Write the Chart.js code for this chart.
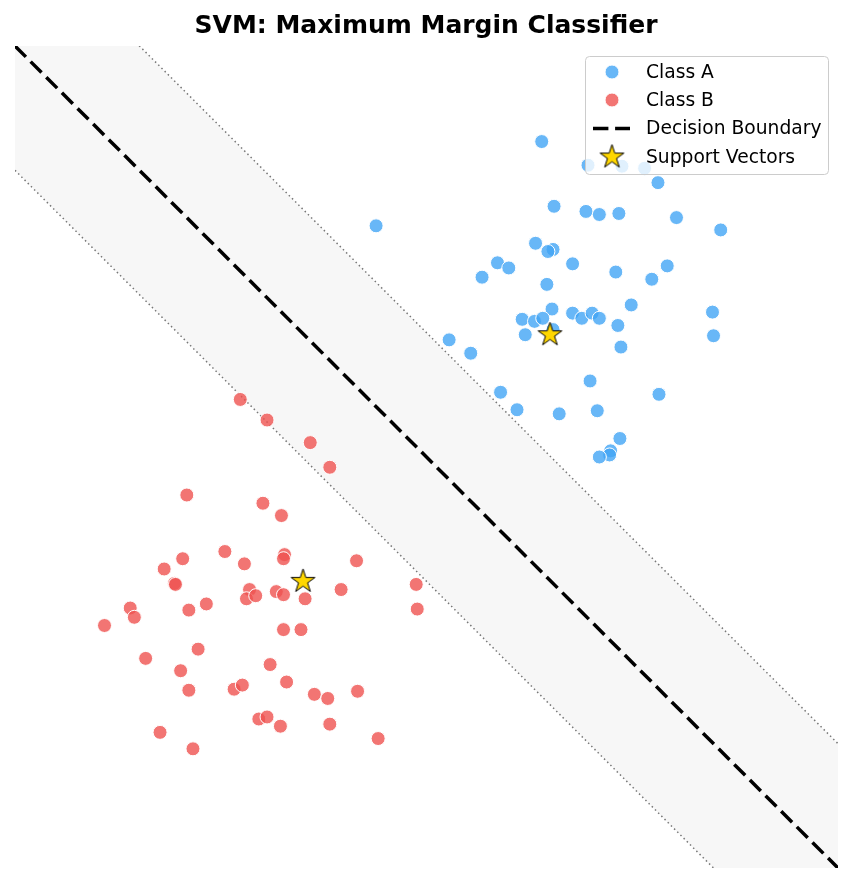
<!DOCTYPE html>
<html>
<head>
<meta charset="utf-8">
<title>SVM: Maximum Margin Classifier</title>
<script src="https://cdn.jsdelivr.net/npm/chart.js@4.4.1/dist/chart.umd.min.js"></script>
<style>
  html, body { margin: 0; padding: 0; background: #fff; }
  #wrap { width: 853px; height: 885px; position: relative; }
</style>
</head>
<body>
<div id="wrap"><canvas id="svmChart"></canvas></div>
<script>
'use strict';
// ******* Data *******
let classAX = [1.12, 1.57, 1.90, 2.12, 2.25, -0.49, 1.24, 1.55, 1.68, 1.87,
  2.43, 2.86, 1.06, 1.23, 1.18, 1.42, 0.69, 0.80, 0.54, 1.84,
  2.34, 2.19, 1.17, 1.99, 2.78, 1.22, 1.42, 1.51, 1.61, 1.68,
  0.93, 1.05, 1.13, 1.86, 0.96, 1.23, 2.79, 0.22, 0.43, 1.89,
  1.59, 0.72, 2.26, 0.88, 1.29, 1.66, 1.88, 1.79, 1.78, 1.68];
let classAY = [3.07, 2.84, 2.83, 2.81, 2.67, 2.25, 2.44, 2.39, 2.36, 2.37,
  2.33, 2.21, 2.08, 2.02, 2.00, 1.88, 1.89, 1.84, 1.75, 1.80,
  1.86, 1.73, 1.68, 1.48, 1.41, 1.44, 1.40, 1.35, 1.40, 1.35,
  1.34, 1.32, 1.35, 1.28, 1.19, 1.24, 1.18, 1.14, 1.01, 1.07,
  0.74, 0.63, 0.61, 0.46, 0.42, 0.45, 0.18, 0.06, 0.02, 0.00];

let classBX = [-1.81, -1.55, -1.13, -0.94, -2.33, -1.59, -1.41, -1.96, -2.37, -1.77,
  -1.38, -1.39, -0.68, -2.55, -0.10, -2.45, -2.44, -1.72, -1.75, -1.66,
  -1.46, -1.39, -1.18, -0.83, -0.09, -2.88, -2.84, -2.31, -2.14, -3.13,
  -1.39, -1.22, -2.22, -2.73, -1.52, -2.39, -1.36, -2.31, -1.87, -1.79,
  -1.09, -0.96, -0.67, -1.63, -1.55, -1.42, -0.94, -2.59, -0.47, -2.27];
let classBY = [0.56, 0.36, 0.14, -0.10, -0.37, -0.45, -0.57, -0.92, -0.99, -1.04,
  -0.95, -0.99, -1.01, -1.09, -1.24, -1.23, -1.24, -1.29, -1.38, -1.35,
  -1.31, -1.34, -1.38, -1.29, -1.48, -1.47, -1.56, -1.49, -1.43, -1.64,
  -1.68, -1.68, -1.87, -1.96, -2.02, -2.08, -2.19, -2.27, -2.26, -2.22,
  -2.31, -2.35, -2.28, -2.55, -2.53, -2.62, -2.60, -2.68, -2.74, -2.84];

let supportX = [1.20, -1.20];
let supportY = [1.19, -1.21];

let lineX = [-4, 4];
let boundaryY = [4, -4];
let upperMarginY = [5.21, -2.79];
let lowerMarginY = [2.79, -5.21];

let axisMin = -4;
let axisMax = 4;

// ****** Colours ******
let blueFill = 'rgba(66, 165, 245, 0.8)';
let redFill = 'rgba(239, 83, 80, 0.8)';

function toPoints(xs, ys) {
  let pts = [];
  for (let i = 0; i < xs.length; i++) {
    pts.push({ x: xs[i], y: ys[i] });
  }
  return pts;
}

// ****** Star marker (Chart.js 'star' is an asterisk, so draw our own) ******
function makeStar(r) {
  let size = Math.ceil(2 * r + 4);
  let c = document.createElement('canvas');
  c.width = size;
  c.height = size;
  let g = c.getContext('2d');
  let cx = size / 2;
  let cy = size / 2;
  let inner = r * 0.382;
  g.beginPath();
  for (let i = 0; i < 10; i++) {
    let rad = i % 2 === 0 ? r : inner;
    let a = -Math.PI / 2 + i * Math.PI / 5;
    let px = cx + rad * Math.cos(a);
    let py = cy + rad * Math.sin(a);
    if (i === 0) g.moveTo(px, py); else g.lineTo(px, py);
  }
  g.closePath();
  g.fillStyle = '#FFD700';
  g.fill();
  g.lineWidth = 1;
  g.strokeStyle = '#000';
  g.lineJoin = 'miter';
  g.stroke();
  return c;
}
let starImg = makeStar(12.5);

// ****** Title + legend plugins ******
let titlePlugin = {
  id: 'svmTitle',
  afterDraw(chart) {
    let ctx = chart.ctx;
    ctx.save();
    ctx.font = 'bold 25px "DejaVu Sans"';
    ctx.fillStyle = '#000';
    ctx.textAlign = 'center';
    ctx.textBaseline = 'alphabetic';
    ctx.fillText('SVM: Maximum Margin Classifier', 426, 33);
    ctx.restore();
  }
};

let legendPlugin = {
  id: 'svmLegend',
  afterDraw(chart) {
    let ctx = chart.ctx;
    ctx.save();
    // frame
    let x0 = 585.5, y0 = 56.5, w = 243, h = 118, r = 4;
    ctx.beginPath();
    ctx.moveTo(x0 + r, y0);
    ctx.arcTo(x0 + w, y0, x0 + w, y0 + h, r);
    ctx.arcTo(x0 + w, y0 + h, x0, y0 + h, r);
    ctx.arcTo(x0, y0 + h, x0, y0, r);
    ctx.arcTo(x0, y0, x0 + w, y0, r);
    ctx.closePath();
    ctx.fillStyle = 'rgba(255,255,255,0.8)';
    ctx.fill();
    ctx.strokeStyle = '#cccccc';
    ctx.lineWidth = 1;
    ctx.stroke();

    let markX = 612;
    let textX = 646;
    let rows = [72, 100, 128.5, 157];

    // class markers
    [[blueFill, rows[0]], [redFill, rows[1]]].forEach(function (m) {
      ctx.beginPath();
      ctx.arc(markX, m[1], 7, 0, Math.PI * 2);
      ctx.fillStyle = m[0];
      ctx.fill();
      ctx.strokeStyle = '#fff';
      ctx.lineWidth = 1;
      ctx.stroke();
    });

    // dashed sample
    ctx.beginPath();
    ctx.setLineDash([15.4, 6.7]);
    ctx.moveTo(593, rows[2]);
    ctx.lineTo(630, rows[2]);
    ctx.strokeStyle = '#000';
    ctx.lineWidth = 3.5;
    ctx.stroke();
    ctx.setLineDash([]);

    // star
    ctx.drawImage(starImg, markX - starImg.width / 2, rows[3] - starImg.height / 2);

    // labels
    let labels = ['Class A', 'Class B', 'Decision Boundary', 'Support Vectors'];
    ctx.font = '18.7px "DejaVu Sans"';
    ctx.fillStyle = '#000';
    ctx.textAlign = 'left';
    ctx.textBaseline = 'middle';
    for (let i = 0; i < labels.length; i++) {
      ctx.fillText(labels[i], textX, rows[i] + 1);
    }
    ctx.restore();
  }
};

// ****** Chart ******
let ctx = document.getElementById('svmChart');

let svmChartObj = {
  type: 'scatter',
  data: {
    datasets: [
      {
        label: 'Support Vectors',
        data: toPoints(supportX, supportY),
        pointStyle: starImg,
        pointRadius: 12,
        order: 0
      },
      {
        label: 'Class A',
        data: toPoints(classAX, classAY),
        pointRadius: 7,
        pointBackgroundColor: blueFill,
        pointBorderColor: '#ffffff',
        pointBorderWidth: 1,
        order: 1
      },
      {
        label: 'Class B',
        data: toPoints(classBX, classBY),
        pointRadius: 7,
        pointBackgroundColor: redFill,
        pointBorderColor: '#ffffff',
        pointBorderWidth: 1,
        order: 2
      },
      {
        type: 'line',
        label: 'Decision Boundary',
        data: toPoints(lineX, boundaryY),
        borderColor: '#000000',
        borderWidth: 3.5,
        borderDash: [15.4, 6.7],
        pointRadius: 0,
        fill: false,
        clip: 0,
        order: 3
      },
      {
        type: 'line',
        label: 'Lower Margin',
        data: toPoints(lineX, lowerMarginY),
        borderColor: '#777777',
        borderWidth: 1.5,
        borderDash: [1.5, 3],
        pointRadius: 0,
        fill: false,
        clip: 0,
        order: 4
      },
      {
        type: 'line',
        label: 'Upper Margin',
        data: toPoints(lineX, upperMarginY),
        borderColor: '#777777',
        borderWidth: 1.5,
        borderDash: [1.5, 3],
        pointRadius: 0,
        fill: '-1',
        backgroundColor: '#f7f7f7',
        clip: 0,
        order: 5
      }
    ]
  },
  options: {
    responsive: true,
    maintainAspectRatio: false,
    animation: false,
    events: [],
    layout: {
      padding: { left: 15, right: 15, top: 46, bottom: 17 }
    },
    scales: {
      x: { type: 'linear', min: axisMin, max: axisMax, display: false },
      y: { type: 'linear', min: axisMin, max: axisMax, display: false }
    },
    plugins: {
      legend: { display: false },
      title: { display: false },
      tooltip: { enabled: false }
    }
  },
  plugins: [titlePlugin, legendPlugin]
};

new Chart(ctx, svmChartObj);
</script>
</body>
</html>
